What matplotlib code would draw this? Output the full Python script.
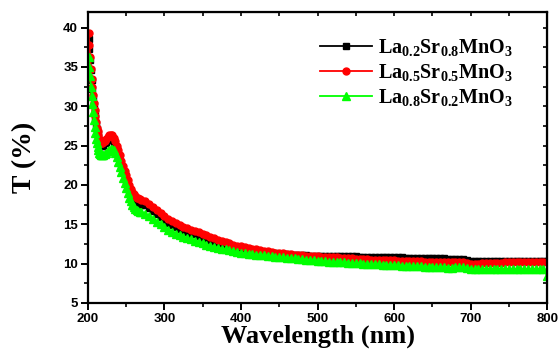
import numpy as np
import matplotlib
matplotlib.use("Agg")
import matplotlib.pyplot as plt
from matplotlib.ticker import MultipleLocator

plt.rcParams['mathtext.fontset'] = 'custom'
plt.rcParams['mathtext.rm'] = 'Liberation Serif:bold'
plt.rcParams['mathtext.bf'] = 'Liberation Serif:bold'

# wavelength grid of the readings (nm)
wl = np.concatenate([np.arange(201, 221, 1), np.arange(222, 271, 2), np.arange(275, 801, 5)])

# La0.2Sr0.8MnO3 (black)
T_02 = [38.6, 37.3, 35.9, 34.6, 33.3, 32.2, 31.2, 30.2, 29.3, 28.5,
        27.8, 27.1, 26.5, 26.0, 25.6, 25.3, 25.1, 25.0, 25.0, 25.1,
        25.3, 25.5, 25.7, 25.8, 25.8, 25.7, 25.4, 25.0, 24.4, 23.8,
        23.1, 22.4, 21.7, 21.1, 20.5, 19.9, 19.4, 18.9, 18.5, 18.2,
        18.0, 17.8, 17.7, 17.6, 17.5,
        17.4, 17.1, 16.7, 16.3, 15.9, 15.5, 15.2, 14.9, 14.6, 14.4,
        14.2, 14.0, 13.8, 13.7, 13.5, 13.3, 13.1, 12.9, 12.7, 12.6,
        12.5, 12.3, 12.2, 12.1, 12.0, 11.9, 11.8, 11.7, 11.6, 11.55,
        11.5, 11.45, 11.4, 11.35, 11.3, 11.25, 11.2, 11.17, 11.14, 11.1,
        11.07, 11.05, 11.03, 11.0, 11.0, 10.98, 10.97, 10.97, 10.96, 10.96,
        10.95, 10.95, 10.95, 10.94, 10.93, 10.92, 10.9, 10.9, 10.88, 10.87,
        10.86, 10.85, 10.84, 10.83, 10.82, 10.8, 10.8, 10.78, 10.77, 10.76,
        10.75, 10.74, 10.73, 10.72, 10.71, 10.7, 10.68, 10.66, 10.65, 10.63,
        10.62, 10.6, 10.6, 10.58, 10.45, 10.35, 10.33, 10.33, 10.34, 10.35,
        10.35, 10.36, 10.36, 10.37, 10.37, 10.38, 10.38, 10.38, 10.38, 10.38,
        10.38, 10.38, 10.38, 10.38, 10.38, 10.38]

# La0.5Sr0.5MnO3 (red)
T_05 = [39.3, 37.8, 36.3, 34.8, 33.5, 32.4, 31.4, 30.4, 29.5, 28.7,
        28.0, 27.3, 26.8, 26.3, 25.9, 25.6, 25.4, 25.3, 25.3, 25.4,
        25.6, 25.9, 26.1, 26.3, 26.4, 26.3, 26.0, 25.6, 25.0, 24.4,
        23.8, 23.1, 22.4, 21.8, 21.2, 20.6, 20.0, 19.5, 19.1, 18.8,
        18.6, 18.4, 18.3, 18.2, 18.1,
        17.9, 17.6, 17.2, 16.8, 16.4, 16.0, 15.7, 15.4, 15.1, 14.9,
        14.7, 14.5, 14.3, 14.2, 14.0, 13.8, 13.6, 13.4, 13.2, 13.0,
        12.9, 12.7, 12.6, 12.4, 12.3, 12.2, 12.1, 12.0, 11.9, 11.8,
        11.7, 11.6, 11.55, 11.5, 11.4, 11.35, 11.3, 11.25, 11.2, 11.15,
        11.1, 11.05, 11.0, 10.97, 10.95, 10.92, 10.9, 10.87, 10.84, 10.8,
        10.78, 10.75, 10.72, 10.7, 10.67, 10.64, 10.6, 10.57, 10.55, 10.52,
        10.5, 10.48, 10.46, 10.44, 10.42, 10.4, 10.38, 10.36, 10.34, 10.32,
        10.3, 10.28, 10.27, 10.26, 10.25, 10.24, 10.23, 10.22, 10.21, 10.2,
        10.2, 10.22, 10.25, 10.25, 10.1, 10.0, 9.98, 10.0, 10.03, 10.05,
        10.07, 10.1, 10.12, 10.13, 10.15, 10.16, 10.17, 10.18, 10.19, 10.2,
        10.2, 10.2, 10.21, 10.22, 10.22, 10.2]

# La0.8Sr0.2MnO3 (green)
T_08 = [36.3, 35.0, 33.8, 32.5, 31.3, 30.3, 29.3, 28.3, 27.4, 26.6,
        25.9, 25.3, 24.8, 24.4, 24.1, 23.9, 23.8, 23.8, 23.8, 23.85,
        23.9, 24.1, 24.3, 24.5, 24.6, 24.6, 24.4, 24.0, 23.5, 22.9,
        22.3, 21.6, 20.9, 20.2, 19.6, 19.0, 18.4, 17.9, 17.5, 17.2,
        17.0, 16.8, 16.7, 16.6, 16.5,
        16.3, 16.0, 15.7, 15.3, 15.0, 14.6, 14.3, 14.0, 13.8, 13.6,
        13.4, 13.2, 13.1, 12.9, 12.8, 12.6, 12.4, 12.3, 12.1, 12.0,
        11.9, 11.8, 11.7, 11.6, 11.5, 11.4, 11.3, 11.25, 11.2, 11.15,
        11.1, 11.05, 11.0, 10.95, 10.9, 10.85, 10.8, 10.75, 10.7, 10.65,
        10.6, 10.55, 10.5, 10.45, 10.4, 10.35, 10.32, 10.29, 10.26, 10.23,
        10.2, 10.17, 10.14, 10.11, 10.08, 10.05, 10.02, 10.0, 9.98, 9.95,
        9.92, 9.9, 9.87, 9.84, 9.81, 9.78, 9.76, 9.74, 9.72, 9.7,
        9.68, 9.66, 9.64, 9.62, 9.6, 9.58, 9.56, 9.54, 9.52, 9.5,
        9.5, 9.52, 9.58, 9.6, 9.45, 9.35, 9.33, 9.32, 9.32, 9.32,
        9.32, 9.32, 9.32, 9.33, 9.33, 9.33, 9.34, 9.34, 9.34, 9.34,
        9.35, 9.35, 9.35, 9.35, 9.33, 8.4]

labels = [r'$\mathrm{La_{0.2}Sr_{0.8}MnO_3}$',
          r'$\mathrm{La_{0.5}Sr_{0.5}MnO_3}$',
          r'$\mathrm{La_{0.8}Sr_{0.2}MnO_3}$']

fig = plt.figure(figsize=(5.59, 3.49), dpi=100)
ax = fig.add_axes([0.157, 0.132, 0.822, 0.834])

ax.plot(wl, T_02, color='black', marker='s', ms=4.2, lw=1.3, label=labels[0])
ax.plot(wl, T_05, color='red', marker='o', ms=5.0, lw=1.3, label=labels[1])
ax.plot(wl, T_08, color='#00ff00', marker='^', ms=5.4, lw=1.3, label=labels[2])

ax.set_xlim(200, 800)
ax.set_ylim(5, 42)
ax.xaxis.set_major_locator(MultipleLocator(100))
ax.xaxis.set_minor_locator(MultipleLocator(50))
ax.yaxis.set_major_locator(MultipleLocator(5))
ax.yaxis.set_minor_locator(MultipleLocator(2.5))

for s in ax.spines.values():
    s.set_linewidth(1.6)
ax.tick_params(which='major', direction='out', length=5, width=1.4,
               top=False, right=False, pad=2)
ax.tick_params(which='minor', direction='out', length=3, width=1.2,
               top=False, right=False)
for lab in ax.get_xticklabels() + ax.get_yticklabels():
    lab.set_fontfamily('Liberation Sans')
    lab.set_fontweight('bold')
    lab.set_fontsize(9.5)

# mirror ticks on top and right, pointing inward
sec_x = ax.secondary_xaxis('top')
sec_x.xaxis.set_major_locator(MultipleLocator(50))
sec_x.tick_params(direction='in', length=3, width=1.2, labeltop=False)
sec_y = ax.secondary_yaxis('right')
sec_y.yaxis.set_major_locator(MultipleLocator(2.5))
sec_y.tick_params(direction='in', length=3, width=1.2, labelright=False)

ax.set_xlabel('Wavelength (nm)', fontfamily='Liberation Serif', fontweight='bold',
              fontsize=19, labelpad=0)
ax.set_ylabel('T (%)', fontfamily='Liberation Serif', fontweight='bold',
              fontsize=20, labelpad=19)

ax.legend(loc='upper left', bbox_to_anchor=(0.465, 0.975), frameon=False,
          fontsize=14.5, handlelength=2.6, handletextpad=0.3, labelspacing=0.2)

fig.savefig('out.png', dpi=100)
